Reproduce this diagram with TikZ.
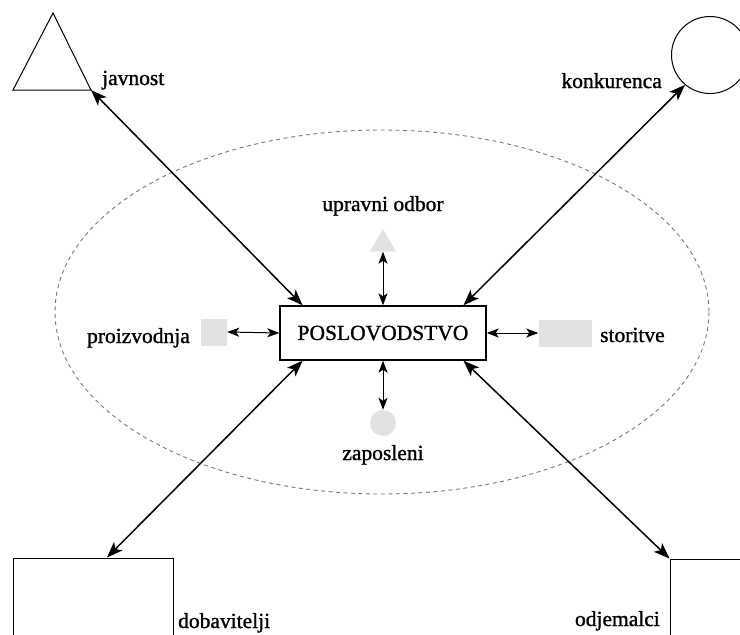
\documentclass[tikz,border=0pt]{standalone}
\usepackage{fontspec}
\setmainfont{Liberation Serif}[BoldFont={Liberation Serif}, BoldFeatures={FakeBold=1.2}]
\usetikzlibrary{arrows.meta,shapes.geometric}

\definecolor{shapeGray}{RGB}{226,226,226}
\definecolor{ovalGray}{RGB}{120,120,120}

\begin{document}
\begin{tikzpicture}[x=1pt, y=-1pt, font=\fontsize{21.5}{25}\selectfont\bfseries,
		outerArrow/.style={line width=1.5pt, {Stealth[length=16pt, width=12pt, inset=4pt]}-{Stealth[length=16pt, width=12pt, inset=4pt]}},
		innerArrow/.style={line width=1pt, {Stealth[length=12pt, width=9pt, inset=3pt]}-{Stealth[length=12pt, width=9pt, inset=3pt]}},
		grayShape/.style={fill=shapeGray, draw=none, inner sep=0pt},
		outerShape/.style={draw, line width=1pt, inner sep=0pt},
		nameText/.style={inner sep=0pt}]
		
		\useasboundingbox (0,0) rectangle (740,635);
		\clip (0,0) rectangle (740,635);
		
		%Dashed oval
		\draw[ovalGray, line width=0.9pt, dash pattern=on 4pt off 3.5pt] (382,312) ellipse [x radius=327, y radius=182];
		
		%Centre
		\node (poslovodstvo) at (383,333) [rectangle, draw, line width=1.4pt, fill=white, minimum width=206pt, minimum height=54pt, inner sep=0pt]{POSLOVODSTVO};
		
		%Outer shapes
		\draw[line width=1pt] (13,90) -- (53,13) -- (91,90) -- cycle;
		\coordinate (javnostCorner) at (91,90);
		\node (javnostText) at (102,85) [nameText, anchor=base west]{javnost};
		
		\node (konkurenca) at (710,55) [outerShape, circle, minimum size=77pt]{};
		\node (konkurencaText) at (662,88) [nameText, anchor=base east]{konkurenca};
		
		\node (dobavitelji) at (93,618) [outerShape, rectangle, minimum width=160pt, minimum height=120pt]{};
		\node (dobaviteljiText) at (178,628) [nameText, anchor=base west]{dobavitelji};
		
		\node (odjemalci) at (740,620) [outerShape, rectangle, minimum width=140pt, minimum height=122pt]{};
		\node (odjemalciText) at (660,626) [nameText, anchor=base east]{odjemalci};
		
		%Inner shapes
		\node (odborShape) at (383,244) [grayShape, regular polygon, regular polygon sides=3, minimum size=30pt]{};
		\node (odborText) at (383,211) [nameText, anchor=base]{upravni odbor};
		
		\node (proizvodnjaShape) at (214,332) [grayShape, rectangle, minimum width=26pt, minimum height=27pt]{};
		\node (proizvodnjaText) at (190,343) [nameText, anchor=base east]{proizvodnja};
		
		\node (storitveShape) at (565,333) [grayShape, rectangle, minimum width=53pt, minimum height=27pt]{};
		\node (storitveText) at (600,342) [nameText, anchor=base west]{storitve};
		
		\node (zaposleniShape) at (383,423) [grayShape, circle, minimum size=26pt]{};
		\node (zaposleniText) at (383,460) [nameText, anchor=base]{zaposleni};
		
		%Outer arrows
		\draw[outerArrow] (javnostCorner) -- (poslovodstvo.161);
		\draw[outerArrow] (konkurenca.230) -- (poslovodstvo.19);
		\draw[outerArrow] ([xshift=14pt]dobavitelji.north) -- (poslovodstvo.199);
		\draw[outerArrow] (odjemalci.north west) -- (poslovodstvo.341);
		
		%Inner arrows
		\draw[innerArrow] (odborShape.south) -- (poslovodstvo.north);
		\draw[innerArrow] (proizvodnjaShape.east) -- (poslovodstvo.west);
		\draw[innerArrow] (poslovodstvo.east) -- (storitveShape.west);
		\draw[innerArrow] (poslovodstvo.south) -- (zaposleniShape.north);
		
\end{tikzpicture}
\end{document}
